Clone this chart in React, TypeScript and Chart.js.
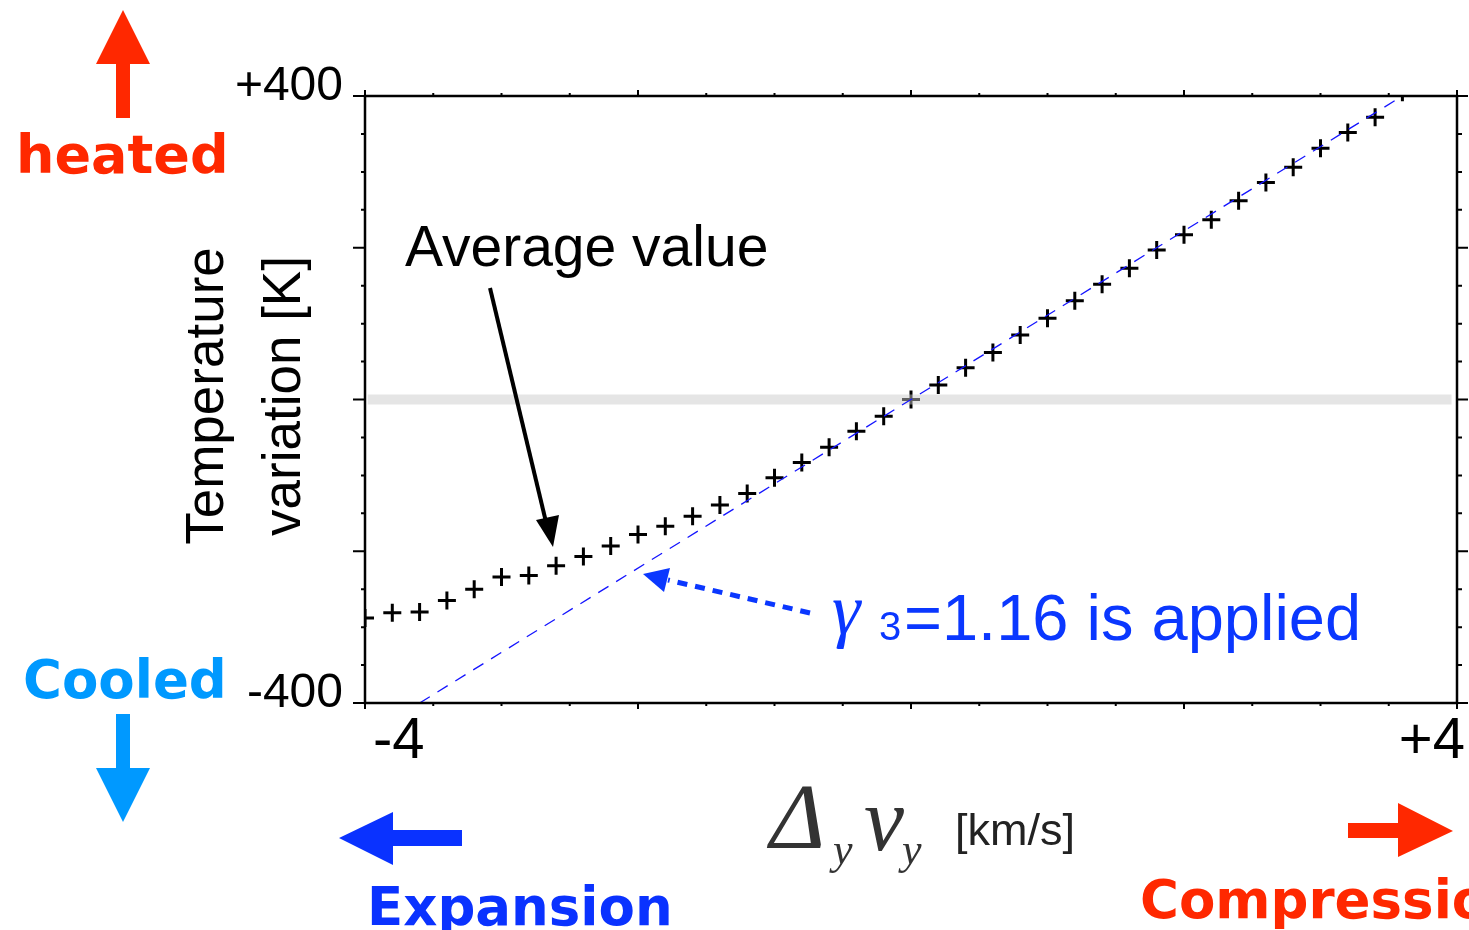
import React, { useEffect, useRef } from 'react';
import { Chart, registerables } from 'chart.js';

Chart.register(...registerables);

const W = 1469;
const H = 930;

// Measured points ("Average value")
const velocity = [
  -4.0, -3.8, -3.6, -3.4, -3.2, -3.0, -2.8, -2.6, -2.4, -2.2,
  -2.0, -1.8, -1.6, -1.4, -1.2, -1.0, -0.8, -0.6, -0.4, -0.2,
  0.0, 0.2, 0.4, 0.6, 0.8, 1.0, 1.2, 1.4, 1.6, 1.8,
  2.0, 2.2, 2.4, 2.6, 2.8, 3.0, 3.2, 3.4, 3.6,
];
const temperature = [
  -288, -281, -280, -265, -250, -234, -232, -219, -207, -193,
  -178, -167, -154, -139, -124, -103, -83, -63, -42, -22,
  0, 19, 42, 62, 85, 107, 130, 152, 173, 197,
  217, 237, 262, 286, 306, 331, 352, 372, 405,
];

// gamma3 = 1.16 line
const fitVelocity = [-3.6, 3.6];
const fitTemperature = [-400, 400];

// zero reference band
const baseVelocity = [-3.98, 3.96];
const baseTemperature = [0, 0];

// tick labels
const xTickValues = [-4, 4];
const xTickLabels = ['-4', '+4'];
const yTickValues = [-400, 400];
const yTickLabels = ['-400', '+400'];

// tick marks
const xTickMarks = [-4, -3.5, -3, -2.5, -2, -1.5, -1, -0.5, 0, 0.5, 1, 1.5, 2, 2.5, 3, 3.5, 4];
const xMajorMarks = [-4, -2, 0, 2, 4];
const yTickMarks = [-400, -350, -300, -250, -200, -150, -100, -50, 0, 50, 100, 150, 200, 250, 300, 350, 400];
const yMajorMarks = [-400, -200, 0, 200, 400];

function poly(ctx: CanvasRenderingContext2D, pts: number[][], color: string) {
  ctx.fillStyle = color;
  ctx.beginPath();
  ctx.moveTo(pts[0][0], pts[0][1]);
  for (let i = 1; i < pts.length; i++) ctx.lineTo(pts[i][0], pts[i][1]);
  ctx.closePath();
  ctx.fill();
}

const decorPlugin = {
  id: 'decor',
  afterDatasetsDraw(chart: any) {
    const ctx: CanvasRenderingContext2D = chart.ctx;
    const { left, right, top, bottom } = chart.chartArea;
    const xs = chart.scales.x;
    const ys = chart.scales.y;
    ctx.save();

    // frame
    ctx.strokeStyle = '#000';
    ctx.lineWidth = 2.5;
    ctx.strokeRect(left, top, right - left, bottom - top);

    // tick marks
    ctx.lineWidth = 2;
    ctx.beginPath();
    for (const v of xTickMarks) {
      const px = xs.getPixelForValue(v);
      const len = xMajorMarks.includes(v) ? 6 : 3;
      ctx.moveTo(px, bottom);
      ctx.lineTo(px, bottom + len);
      ctx.moveTo(px, top);
      ctx.lineTo(px, top - len);
    }
    for (const v of yTickMarks) {
      const py = ys.getPixelForValue(v);
      const major = yMajorMarks.includes(v);
      ctx.moveTo(left, py);
      ctx.lineTo(left - (major ? 12 : 4), py);
      ctx.moveTo(right, py);
      ctx.lineTo(right + (major ? 11 : 5), py);
    }
    ctx.stroke();

    ctx.textBaseline = 'alphabetic';
    ctx.textAlign = 'left';

    // y axis title (rotated, two lines)
    ctx.save();
    ctx.translate(223, 396);
    ctx.rotate(-Math.PI / 2);
    ctx.fillStyle = '#000';
    ctx.textAlign = 'center';
    ctx.font = '53px "Liberation Sans", Arial, sans-serif';
    ctx.fillText('Temperature', 0, 0);
    ctx.fillText('variation [K]', 0, 77);
    ctx.restore();

    // x axis title
    ctx.fillStyle = '#333';
    ctx.font = 'italic 94px "Liberation Serif", serif';
    ctx.fillText('Δ', 770, 848);
    ctx.font = 'italic 44px "Liberation Serif", serif';
    ctx.fillText('y', 833, 864);
    ctx.font = 'italic 90px "Liberation Serif", serif';
    ctx.fillText('v', 864, 850);
    ctx.font = 'italic 44px "Liberation Serif", serif';
    ctx.fillText('y', 902, 864);
    ctx.fillStyle = '#222';
    ctx.font = '45px "Liberation Sans", Arial, sans-serif';
    ctx.fillText('[km/s]', 955, 845);

    // "Average value" annotation
    ctx.fillStyle = '#000';
    ctx.font = '57px "Liberation Sans", Arial, sans-serif';
    ctx.fillText('Average value', 405, 266);
    ctx.strokeStyle = '#000';
    ctx.lineWidth = 4;
    ctx.beginPath();
    ctx.moveTo(490, 288);
    ctx.lineTo(546, 522);
    ctx.stroke();
    poly(ctx, [[553, 547], [536, 520], [559, 515]], '#000');

    // gamma annotation
    const blue = 'rgb(10,55,255)';
    ctx.strokeStyle = blue;
    ctx.lineWidth = 5;
    ctx.setLineDash([10, 8]);
    ctx.beginPath();
    ctx.moveTo(810, 613);
    ctx.lineTo(668, 580);
    ctx.stroke();
    ctx.setLineDash([]);
    poly(ctx, [[643, 574], [670, 568], [664, 592]], blue);
    ctx.fillStyle = blue;
    ctx.font = 'italic 72px "Liberation Serif", serif';
    ctx.fillText('γ', 832, 634);
    ctx.font = '40px "Liberation Sans", Arial, sans-serif';
    ctx.fillText('3', 879, 640);
    ctx.font = '65px "Liberation Sans", Arial, sans-serif';
    ctx.fillText('=1.16 is applied', 904, 640);

    // heated
    const red = '#ff2800';
    poly(ctx, [[116, 118], [130, 118], [130, 64], [150, 64], [123, 10], [96, 64], [116, 64]], red);
    ctx.fillStyle = red;
    ctx.font = 'bold 54px "DejaVu Sans", sans-serif';
    ctx.fillText('heated', 16, 173);

    // cooled
    const sky = '#0099ff';
    ctx.fillStyle = sky;
    ctx.font = 'bold 53px "DejaVu Sans", sans-serif';
    ctx.fillText('Cooled', 23, 698);
    poly(ctx, [[116, 714], [130, 714], [130, 768], [150, 768], [123, 822], [96, 768], [116, 768]], sky);

    // expansion
    const deep = 'rgb(10,50,255)';
    poly(ctx, [[462, 830], [462, 846], [393, 846], [393, 865], [339, 838], [393, 812], [393, 830]], deep);
    ctx.fillStyle = deep;
    ctx.fillText('Expansion', 367, 925);

    // compression
    poly(ctx, [[1348, 823], [1398, 823], [1398, 803], [1453, 831], [1398, 857], [1398, 838], [1348, 838]], red);
    ctx.fillStyle = red;
    ctx.fillText('Compression', 1140, 918);

    ctx.restore();
  },
};

export default function App() {
  const ref = useRef<HTMLCanvasElement>(null);

  useEffect(() => {
    const prev = document.body.style.margin;
    document.body.style.margin = '0';
    const pts = velocity.map((v, i) => ({ x: v, y: temperature[i] }));
    const fit = fitVelocity.map((v, i) => ({ x: v, y: fitTemperature[i] }));
    const base = baseVelocity.map((v, i) => ({ x: v, y: baseTemperature[i] }));

    const chart = new Chart(ref.current as HTMLCanvasElement, {
      type: 'scatter',
      data: {
        datasets: [
          {
            label: 'Average value',
            data: pts,
            showLine: false,
            pointStyle: 'cross',
            pointRadius: 9,
            pointHoverRadius: 9,
            pointBorderWidth: 3,
            pointBorderColor: '#000',
            pointBackgroundColor: '#000',
            borderColor: '#000',
            clip: 0,
            order: 3,
          } as any,
          {
            label: 'zero',
            data: base,
            showLine: true,
            borderColor: 'rgba(200,200,200,0.48)',
            borderWidth: 10,
            borderCapStyle: 'butt',
            pointRadius: 0,
            pointHoverRadius: 0,
            order: 2,
          } as any,
          {
            label: 'gamma3 = 1.16',
            data: fit,
            showLine: true,
            borderColor: '#1414ff',
            borderWidth: 1.3,
            borderDash: [12, 9],
            pointRadius: 0,
            pointHoverRadius: 0,
            order: 1,
          } as any,
        ],
      },
      options: {
        responsive: false,
        devicePixelRatio: 1,
        animation: false,
        events: [],
        layout: { padding: { top: 96, right: 12, left: 0, bottom: 0 } },
        plugins: { legend: { display: false }, tooltip: { enabled: false } },
        scales: {
          x: {
            type: 'linear',
            position: 'bottom',
            min: -4,
            max: 4,
            grid: { display: false, drawTicks: false },
            border: { display: false },
            afterBuildTicks: (s: any) => {
              s.ticks = xTickValues.map((v) => ({ value: v }));
            },
            afterFit: (s: any) => {
              s.height = H - 703;
            },
            ticks: {
              autoSkip: false,
              maxRotation: 0,
              align: 'inner',
              labelOffset: 8,
              padding: 4,
              color: '#000',
              font: { family: '"Liberation Sans", Arial, sans-serif', size: 58 },
              callback: (v: any) => {
                const i = xTickValues.indexOf(Number(v));
                return i >= 0 ? xTickLabels[i] : '';
              },
            },
          },
          y: {
            type: 'linear',
            min: -400,
            max: 400,
            grid: { display: false, drawTicks: false },
            border: { display: false },
            afterBuildTicks: (s: any) => {
              s.ticks = yTickValues.map((v) => ({ value: v }));
            },
            afterFit: (s: any) => {
              s.width = 365;
            },
            ticks: {
              autoSkip: false,
              labelOffset: -9,
              padding: 22,
              color: '#000',
              font: { family: '"Liberation Sans", Arial, sans-serif', size: 48 },
              callback: (v: any) => {
                const i = yTickValues.indexOf(Number(v));
                return i >= 0 ? yTickLabels[i] : '';
              },
            },
          },
        },
      } as any,
      plugins: [decorPlugin as any],
    });

    return () => {
      chart.destroy();
      document.body.style.margin = prev;
    };
  }, []);

  return (
    <div style={{ position: 'absolute', left: 0, top: 0, width: W, height: H, background: '#fff', overflow: 'hidden' }}>
      <canvas ref={ref} width={W} height={H} style={{ display: 'block', width: W, height: H }} />
    </div>
  );
}
